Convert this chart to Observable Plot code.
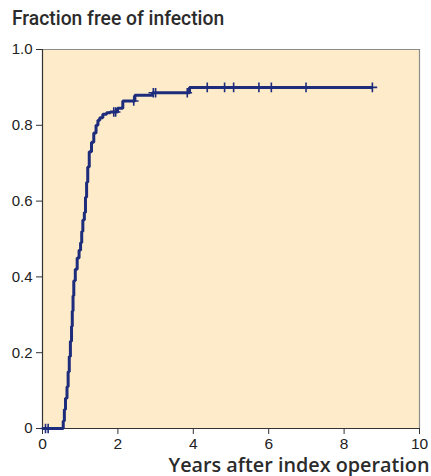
<!DOCTYPE html>
<html>
<head>
<meta charset="utf-8">
<script src="https://cdn.jsdelivr.net/npm/d3@7"></script>
<script src="https://cdn.jsdelivr.net/npm/@observablehq/plot@0.6"></script>
<style>
  html, body { margin: 0; padding: 0; background: #ffffff; }
  #wrap { position: relative; width: 431px; height: 476px; font-family: "Liberation Sans", Arial, sans-serif; }
  #title { position: absolute; left: 12px; top: 6px; font-family: Roboto, "Liberation Sans", sans-serif; font-size: 19.3px; font-weight: 500; color: #2b2b2b; white-space: nowrap; line-height: 26px; }
  #chart { position: absolute; left: 0; top: 38px; }
</style>
</head>
<body>
<div id="wrap">
  <div id="title">Fraction free of infection</div>
  <div id="chart"></div>
</div>
<script>
// Step curve: event times (years) and cumulative fraction after each event
const eventTimes = [0, 0.55, 0.58, 0.61, 0.65, 0.68, 0.71, 0.74, 0.77, 0.79, 0.81, 0.83, 0.87, 0.92, 0.97, 1.01, 1.04, 1.07, 1.11, 1.14, 1.17, 1.20, 1.24, 1.30, 1.36, 1.42, 1.47, 1.52, 1.60, 1.70, 1.80, 1.99, 2.13, 2.45, 2.92, 3.90, 8.75];
const eventValues = [0, 0.02, 0.05, 0.08, 0.11, 0.15, 0.19, 0.23, 0.27, 0.31, 0.35, 0.39, 0.42, 0.45, 0.47, 0.49, 0.52, 0.55, 0.57, 0.61, 0.65, 0.69, 0.73, 0.755, 0.78, 0.80, 0.813, 0.82, 0.829, 0.833, 0.835, 0.845, 0.864, 0.879, 0.886, 0.90, 0.90];

// Censoring marks
const censorTimes = [0.08, 0.15, 1.89, 1.94, 2.42, 2.94, 3.00, 3.84, 4.37, 4.83, 5.07, 5.74, 6.07, 6.99, 8.75];
const censorValues = [0, 0, 0.835, 0.835, 0.864, 0.886, 0.886, 0.886, 0.90, 0.90, 0.90, 0.90, 0.90, 0.90, 0.90];

const xTicks = [0, 2, 4, 6, 8, 10];
const yTicks = [0, 0.2, 0.4, 0.6, 0.8, 1.0];
const xLabel = "Years after index operation";

const steps = eventTimes.map((t, i) => ({t, v: eventValues[i]}));
const censors = censorTimes.map((t, i) => ({t, v: censorValues[i]}));

const lineColor = "#1e2c7c";

const chart = Plot.plot({
  width: 431,
  height: 438,
  marginTop: 11,
  marginBottom: 48,
  marginLeft: 42,
  marginRight: 12,
  style: { fontFamily: "Liberation Sans, Arial, sans-serif", fontSize: "15px", color: "#222", background: "transparent", overflow: "visible" },
  x: { domain: [0, 10] },
  y: { domain: [0, 1] },
  marks: [
    Plot.frame({ fill: "#fdebca", stroke: "none" }),
    Plot.frame({ anchor: "top", stroke: "#8c8c8c", strokeWidth: 1.2 }),
    Plot.frame({ anchor: "right", stroke: "#8c8c8c", strokeWidth: 1.2 }),
    Plot.axisX({ ticks: xTicks, tickSize: 6, tickPadding: 3, label: null, stroke: "#333", tickFormat: d => String(d), fontSize: "15.5px" }),
    Plot.axisY({ ticks: yTicks, tickSize: 6, tickPadding: 4, label: null, stroke: "#333", tickFormat: d => d === 0 ? "0" : d.toFixed(1), fontSize: "15px" }),
    Plot.ruleX([0], { stroke: "#333", strokeWidth: 1.2 }),
    Plot.ruleY([0], { stroke: "#333", strokeWidth: 1.2 }),
    Plot.line(steps, { x: "t", y: "v", curve: "step-after", stroke: lineColor, strokeWidth: 3, strokeLinejoin: "miter", strokeLinecap: "butt" }),
    Plot.dot(censors, { x: "t", y: "v", symbol: "plus", r: 3.2, stroke: lineColor, strokeWidth: 1.6 }),
    Plot.text([xLabel], { frameAnchor: "bottom-right", textAnchor: "end", lineAnchor: "bottom", dx: 10, dy: 43, fontFamily: "Open Sans, Liberation Sans, sans-serif", fontSize: 19.8, fontWeight: 600, fill: "#2b2b2b" })
  ]
});
document.getElementById("chart").appendChild(chart);
</script>
</body>
</html>
